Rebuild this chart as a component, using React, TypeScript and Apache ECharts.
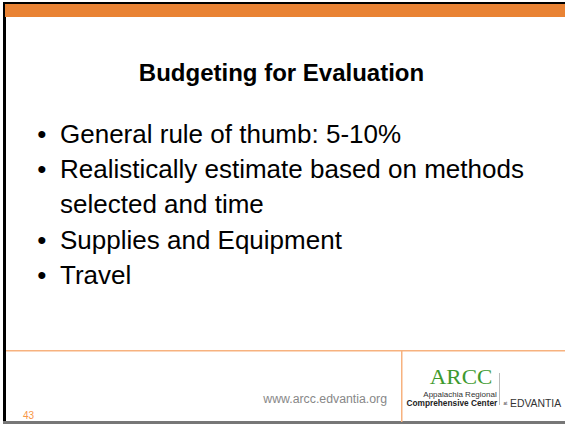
import React, { useEffect, useRef } from "react";
import * as echarts from "echarts";

const title = "Budgeting for Evaluation";
const bullets = [
  "General rule of thumb: 5-10%",
  "Realistically estimate based on methods",
  "selected and time",
  "Supplies and Equipment",
  "Travel",
];
const bulletFlags = [true, true, false, true, true];
const footerUrl = "www.arcc.edvantia.org";
const pageNumber = "43";
const logoTop = "ARCC";
const logoLine1 = "Appalachia Regional";
const logoLine2 = "Comprehensive Center";
const logoAt = "at";
const logoBrand = "EDVANTIA";

const FONT = "Liberation Sans, Arial, sans-serif";

export default function App() {
  const ref = useRef<HTMLDivElement>(null);
  useEffect(() => {
    const chart = echarts.init(ref.current!, null, { renderer: "svg" });
    const elements: any[] = [];
    // frame
    elements.push({ type: "rect", shape: { x: 0, y: 0, width: 565, height: 424 }, style: { fill: "#ffffff" } });
    elements.push({ type: "rect", shape: { x: 3, y: 2, width: 562, height: 3 }, style: { fill: "#000000" } });
    elements.push({ type: "rect", shape: { x: 3, y: 2, width: 3, height: 421 }, style: { fill: "#000000" } });
    elements.push({ type: "rect", shape: { x: 5, y: 4, width: 560, height: 13 }, style: { fill: "#E98334" } });
    elements.push({ type: "rect", shape: { x: 3, y: 421, width: 562, height: 3 }, style: { fill: "#777777" } });
    // footer lines
    elements.push({ type: "rect", shape: { x: 6, y: 350, width: 559, height: 1.5 }, style: { fill: "#F7B27F" } });
    elements.push({ type: "rect", shape: { x: 401, y: 350, width: 1.5, height: 72 }, style: { fill: "#F7B27F" } });
    elements.push({ type: "rect", shape: { x: 499, y: 373, width: 1, height: 32 }, style: { fill: "#BBBBBB" } });
    // title
    elements.push({
      type: "text", x: 281.5, y: 72,
      style: { text: title, font: `bold 24px ${FONT}`, fill: "#000", align: "center", verticalAlign: "middle" },
    });
    const ys = [134, 169, 204, 240, 275];
    bullets.forEach((b, i) => {
      if (bulletFlags[i]) {
        elements.push({ type: "text", x: 41.7, y: ys[i], style: { text: "•", font: `26px ${FONT}`, fill: "#000", align: "center", verticalAlign: "middle" } });
      }
      elements.push({ type: "text", x: 60, y: ys[i], style: { text: b, font: `26px ${FONT}`, fill: "#000", verticalAlign: "middle" } });
    });
    elements.push({ type: "text", x: 387, y: 399, style: { text: footerUrl, font: `12.3px ${FONT}`, fill: "#888888", align: "right", verticalAlign: "middle" } });
    elements.push({ type: "text", x: 23, y: 415, style: { text: pageNumber, font: `10px ${FONT}`, fill: "#F79646", verticalAlign: "middle" } });
    // logo
    elements.push({ type: "text", x: 461, y: 378, scaleX: 1.15, originX: 0, originY: 0, style: { text: logoTop, font: `20px "Liberation Serif", serif`, fill: "#3E9A2E", align: "center", verticalAlign: "middle" } });
    elements.push({ type: "text", x: 496.7, y: 394, style: { text: logoLine1, font: `8px ${FONT}`, fill: "#333", align: "right", verticalAlign: "middle" } });
    elements.push({ type: "text", x: 497.3, y: 402.7, style: { text: logoLine2, font: `bold 8.3px ${FONT}`, fill: "#222", align: "right", verticalAlign: "middle" } });
    elements.push({ type: "text", x: 503.5, y: 403.5, style: { text: logoAt, font: `4.5px ${FONT}`, fill: "#333", verticalAlign: "middle" } });
    elements.push({ type: "text", x: 510, y: 403, style: { text: logoBrand, font: `10.4px ${FONT}`, fill: "#333", verticalAlign: "middle" } });
    chart.setOption({ animation: false, graphic: { elements } });
    return () => chart.dispose();
  }, []);
  return <div ref={ref} style={{ width: 565, height: 424, position: "absolute", left: 0, top: 0 }} />;
}
